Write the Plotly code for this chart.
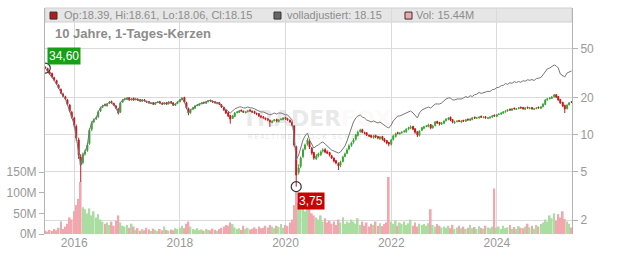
import math
import pandas as pd
import plotly.graph_objects as go

# ---------------- data (half-monthly candles) ----------------
dates = pd.date_range("2015-06-15", periods=240, freq="SMS")

close = [
    34.6, 32.7, 30.9, 29.3, 27.7, 25.7, 23.8, 21.7, 20.5, 19.4,
    17.6, 15.5, 13.8, 11.9, 9.33, 6.79, 5.63, 6.79, 7.18, 8.18,
    10.8, 12.4, 13.1, 13.6, 15.2, 16.4, 17.0, 17.3, 17.6, 18.3,
    18.0, 17.3, 16.4, 14.9, 18.0, 19.0, 19.4, 19.7, 19.0, 19.4,
    19.0, 19.4, 19.0, 18.7, 19.0, 18.7, 18.3, 18.0, 18.0, 17.6,
    18.0, 18.3, 18.0, 17.6, 18.0, 17.6, 18.3, 18.0, 17.3, 17.6,
    18.3, 19.0, 19.7, 18.3, 16.4, 14.9, 15.8, 16.4, 17.0, 17.3,
    17.6, 18.0, 18.0, 18.3, 18.7, 18.7, 18.3, 18.0, 18.0, 17.6,
    16.7, 15.8, 14.9, 14.1, 13.3, 14.1, 14.9, 15.2, 15.5, 15.5,
    15.2, 15.2, 15.5, 15.5, 15.2, 14.9, 14.6, 14.1, 13.8, 13.6,
    13.3, 13.1, 12.6, 12.8, 13.1, 12.8, 13.1, 13.3, 13.6, 13.3,
    13.1, 12.6, 11.9, 8.18, 4.66, 5.32, 6.41, 7.45, 8.18, 8.99,
    7.88, 7.04, 6.41, 6.66, 6.91, 7.18, 7.45, 7.18, 7.04, 6.79,
    6.41, 6.06, 5.84, 5.52, 5.95, 6.53, 6.91, 7.45, 8.03, 8.50,
    8.99, 9.87, 10.4, 10.8, 10.4, 10.2, 9.87, 9.69, 9.51, 9.69,
    9.51, 9.33, 9.51, 9.16, 8.82, 8.50, 8.34, 8.99, 9.69, 10.1,
    10.2, 10.2, 10.4, 10.6, 11.0, 11.3, 11.5, 11.0, 10.4, 9.87,
    10.6, 11.3, 11.5, 11.7, 11.9, 11.3, 11.7, 12.6, 12.4, 12.1,
    12.4, 12.8, 13.3, 13.6, 13.1, 12.6, 12.6, 12.8, 12.8, 12.8,
    12.8, 13.1, 13.1, 13.3, 13.6, 13.6, 13.6, 13.8, 13.8, 13.8,
    13.6, 13.6, 13.8, 14.1, 14.1, 14.4, 14.6, 14.9, 15.2, 15.5,
    15.8, 15.8, 16.1, 16.1, 16.1, 16.4, 16.4, 16.1, 16.4, 16.4,
    16.4, 16.1, 16.1, 16.4, 16.4, 16.7, 17.6, 19.0, 19.4, 19.7,
    20.1, 20.9, 20.1, 19.0, 18.0, 17.0, 16.1, 17.3, 18.0, 18.15,
]

open_ = [
    35.2, 34.3, 32.2, 31.3, 28.9, 27.4, 25.1, 23.2, 21.3, 20.2,
    19.0, 17.3, 15.1, 13.5, 11.6, 9.0, 6.5, 5.9, 6.9, 7.4,
    8.4, 11.0, 12.6, 13.3, 13.9, 15.5, 16.6, 17.4, 17.1, 17.9,
    18.5, 17.8, 17.0, 16.1, 15.2, 18.3, 19.1, 19.2, 19.8, 19.0,
    19.6, 19.1, 19.3, 19.1, 18.6, 19.1, 18.5, 18.4, 17.8, 18.1,
    17.5, 18.2, 18.4, 17.9, 17.7, 18.1, 17.7, 18.4, 18.0, 17.2,
    17.8, 18.4, 19.1, 19.9, 18.1, 16.2, 15.0, 16.0, 16.3, 17.2,
    17.2, 17.7, 18.2, 17.9, 18.4, 18.9, 18.6, 18.4, 17.8, 18.1,
    17.4, 16.6, 15.7, 15.0, 14.2, 13.5, 14.0, 15.0, 15.1, 15.7,
    15.4, 15.0, 15.3, 15.8, 15.4, 15.3, 14.8, 14.7, 14.1, 13.9,
    13.5, 13.4, 13.0, 12.5, 12.9, 13.2, 12.7, 13.2, 13.2, 13.7,
    13.4, 13.0, 12.5, 11.7, 7.9, 4.9, 5.5, 6.6, 7.6, 8.3,
    8.8, 7.7, 7.1, 6.3, 6.7, 6.8, 7.3, 7.5, 7.2, 7.1,
    6.7, 6.4, 6.1, 5.8, 5.6, 6.0, 6.6, 7.0, 7.6, 8.1,
    8.6, 9.1, 9.8, 10.5, 10.9, 10.3, 10.3, 9.8, 9.8, 9.4,
    9.8, 9.6, 9.2, 9.6, 9.2, 8.9, 8.6, 8.3, 9.1, 9.6,
    10.3, 10.1, 10.3, 10.5, 10.5, 11.1, 11.2, 11.6, 11.1, 10.5,
    9.8, 10.8, 11.2, 11.6, 11.6, 12.0, 11.3, 11.8, 12.7, 12.5,
    12.1, 12.3, 12.9, 13.2, 13.8, 13.2, 12.4, 12.7, 12.9, 12.6,
    13.0, 12.8, 13.3, 13.0, 13.2, 13.8, 13.5, 13.6, 14.0, 13.7,
    13.9, 13.5, 13.6, 13.8, 14.3, 14.0, 14.5, 14.6, 14.9, 15.3,
    15.5, 16.0, 15.7, 16.3, 16.0, 16.2, 16.6, 16.5, 16.0, 16.6,
    16.2, 16.5, 16.0, 16.2, 16.6, 16.3, 16.8, 17.5, 19.1, 19.5,
    19.6, 20.2, 21.0, 20.3, 19.2, 18.2, 17.2, 16.2, 17.4, 18.39,
]

high = [
    35.6, 34.8, 32.6, 31.7, 29.4, 27.8, 25.5, 23.6, 21.8, 20.6,
    19.4, 17.6, 15.5, 13.9, 12.0, 9.4, 6.9, 7.1, 7.5, 8.5,
    11.2, 12.8, 13.5, 14.0, 15.6, 16.8, 17.4, 17.8, 18.0, 18.7,
    18.8, 18.1, 17.3, 16.4, 18.4, 19.4, 19.8, 20.1, 20.1, 19.8,
    19.9, 19.8, 19.6, 19.4, 19.3, 19.4, 18.8, 18.7, 18.3, 18.3,
    18.3, 18.6, 18.7, 18.2, 18.3, 18.3, 18.6, 18.6, 18.2, 17.9,
    18.6, 19.3, 20.1, 20.2, 18.4, 16.5, 16.1, 16.7, 17.3, 17.6,
    17.9, 18.3, 18.4, 18.6, 19.0, 19.1, 18.8, 18.6, 18.3, 18.3,
    17.6, 16.8, 15.9, 15.3, 14.4, 14.4, 15.2, 15.5, 15.8, 15.9,
    15.6, 15.4, 15.8, 16.0, 15.6, 15.5, 15.0, 14.9, 14.3, 14.1,
    13.7, 13.5, 13.2, 13.0, 13.3, 13.4, 13.3, 13.5, 13.8, 13.9,
    13.6, 13.2, 12.7, 11.9, 8.1, 5.7, 6.6, 7.7, 8.4, 9.3,
    9.1, 7.9, 7.2, 6.9, 7.1, 7.4, 7.7, 7.7, 7.4, 7.2,
    6.8, 6.5, 6.2, 5.9, 6.1, 6.7, 7.1, 7.7, 8.3, 8.7,
    9.3, 10.1, 10.7, 11.1, 11.1, 10.5, 10.4, 10.0, 9.9, 9.9,
    9.9, 9.7, 9.7, 9.7, 9.3, 9.0, 8.7, 9.2, 9.9, 10.3,
    10.5, 10.4, 10.6, 10.8, 11.2, 11.5, 11.8, 11.7, 11.2, 10.6,
    10.8, 11.5, 11.7, 11.9, 12.2, 12.1, 11.9, 12.8, 12.9, 12.6,
    12.6, 13.0, 13.5, 13.8, 13.9, 13.3, 12.9, 13.0, 13.1, 13.0,
    13.1, 13.3, 13.4, 13.5, 13.8, 13.9, 13.8, 14.0, 14.2, 14.0,
    14.1, 13.8, 14.0, 14.3, 14.5, 14.6, 14.8, 15.1, 15.4, 15.7,
    16.0, 16.2, 16.3, 16.5, 16.3, 16.6, 16.8, 16.7, 16.6, 16.8,
    16.6, 16.7, 16.3, 16.6, 16.8, 16.9, 17.9, 19.3, 19.7, 20.0,
    20.4, 21.3, 21.3, 20.5, 19.4, 18.4, 17.4, 17.5, 18.3, 18.61,
]

low = [
    34.2, 32.3, 30.5, 28.9, 27.3, 25.3, 23.4, 21.3, 20.1, 19.0,
    17.2, 15.1, 13.4, 11.4, 8.9, 6.3, 4.09, 5.7, 6.7, 7.2,
    8.2, 10.6, 12.3, 13.1, 13.6, 15.2, 16.3, 16.9, 16.8, 17.6,
    17.8, 17.0, 16.1, 14.5, 14.9, 18.0, 18.9, 19.0, 18.8, 18.8,
    18.8, 18.9, 18.7, 18.4, 18.4, 18.5, 18.1, 17.8, 17.6, 17.3,
    17.3, 17.9, 17.8, 17.3, 17.4, 17.3, 17.5, 17.8, 17.0, 17.0,
    17.6, 18.2, 18.9, 18.0, 16.0, 14.3, 14.7, 15.7, 16.1, 16.9,
    17.0, 17.5, 17.7, 17.7, 18.2, 18.4, 18.0, 17.8, 17.5, 17.3,
    16.4, 15.5, 14.6, 13.8, 12.2, 13.3, 13.8, 14.8, 14.9, 15.3,
    14.9, 14.8, 15.1, 15.2, 14.9, 14.6, 14.3, 13.8, 13.5, 13.4,
    13.0, 12.8, 11.5, 12.3, 12.7, 12.5, 12.5, 13.0, 13.0, 13.1,
    12.9, 12.4, 11.6, 7.9, 3.75, 4.7, 5.3, 6.4, 7.4, 8.1,
    7.6, 6.8, 6.2, 6.2, 6.5, 6.7, 7.1, 7.0, 6.9, 6.6,
    6.3, 5.9, 5.7, 5.12, 5.4, 5.9, 6.5, 6.9, 7.4, 7.9,
    8.4, 8.9, 9.6, 10.3, 10.2, 10.0, 9.7, 9.5, 9.3, 9.2,
    9.3, 9.1, 9.0, 8.9, 8.6, 8.3, 8.0, 8.1, 8.9, 9.4,
    10.0, 9.9, 10.1, 10.3, 10.3, 10.8, 11.0, 10.8, 10.1, 9.5,
    9.6, 10.6, 11.0, 11.4, 11.4, 11.0, 11.1, 11.6, 12.1, 11.8,
    11.9, 12.1, 12.7, 13.0, 12.8, 12.3, 12.2, 12.5, 12.6, 12.4,
    12.6, 12.6, 12.9, 12.8, 13.0, 13.3, 13.3, 13.4, 13.6, 13.5,
    13.4, 13.3, 13.4, 13.6, 13.9, 13.8, 14.3, 14.4, 14.7, 15.0,
    15.3, 15.5, 15.5, 15.9, 15.8, 16.0, 16.2, 15.9, 15.8, 16.2,
    16.0, 15.9, 15.8, 16.0, 16.2, 16.0, 16.5, 17.3, 18.8, 19.2,
    19.4, 19.9, 19.8, 18.8, 17.7, 16.7, 14.9, 15.9, 17.2, 18.06,
]

adjusted = [
    34.6, 32.7, 30.9, 29.3, 27.7, 25.7, 23.8, 21.7, 20.5, 19.4,
    17.6, 15.5, 13.8, 11.9, 9.33, 6.79, 5.63, 6.79, 7.18, 8.18,
    10.8, 12.4, 13.1, 13.6, 15.2, 16.4, 17.0, 17.3, 17.6, 18.3,
    18.0, 17.3, 16.4, 14.9, 18.0, 19.0, 19.4, 19.7, 19.0, 19.4,
    19.0, 19.4, 19.0, 18.7, 19.0, 18.7, 18.3, 18.0, 18.0, 17.6,
    18.0, 18.3, 18.0, 17.6, 18.0, 17.6, 18.3, 18.0, 17.3, 17.6,
    18.3, 19.0, 19.7, 18.3, 16.4, 14.9, 15.8, 16.4, 17.0, 17.3,
    17.6, 18.0, 18.1, 18.4, 18.8, 18.9, 18.5, 18.2, 18.2, 17.9,
    17.1, 16.4, 15.8, 15.2, 14.9, 15.5, 16.1, 16.4, 16.7, 16.7,
    16.4, 16.4, 16.7, 16.4, 16.4, 16.1, 15.8, 15.5, 15.2, 15.2,
    14.9, 14.6, 14.4, 14.6, 14.9, 14.6, 14.9, 14.9, 14.6, 14.4,
    14.4, 13.8, 13.1, 9.33, 6.18, 6.79, 7.88, 8.99, 9.69, 10.25,
    8.99, 8.18, 7.74, 8.03, 8.18, 8.50, 8.66, 8.34, 8.03, 7.74,
    7.45, 7.31, 7.18, 7.04, 7.18, 7.59, 8.03, 8.82, 9.87, 11.26,
    12.6, 13.58, 14.09, 14.36, 13.83, 13.58, 13.08, 12.84, 12.6, 12.84,
    12.6, 12.36, 12.6, 12.13, 11.69, 11.47, 11.26, 11.91, 12.84, 13.58,
    14.09, 14.09, 14.36, 14.63, 14.91, 15.19, 15.48, 14.91, 14.36, 13.58,
    14.91, 15.77, 16.07, 16.37, 16.68, 16.37, 17.0, 17.65, 17.65, 17.65,
    17.98, 18.67, 19.38, 19.75, 19.75, 19.02, 19.02, 19.38, 19.38, 19.38,
    19.75, 20.3, 19.9, 20.6, 20.3, 21.0, 21.2, 21.9, 21.5, 21.8,
    22.0, 22.4, 22.3, 23.1, 23.2, 24.0, 24.1, 24.9, 25.0, 25.9,
    25.5, 26.3, 26.0, 26.8, 26.4, 26.9, 26.5, 27.3, 27.0, 27.8,
    27.5, 27.9, 27.4, 28.4, 28.6, 29.0, 30.4, 32.77, 34.02, 34.66,
    35.32, 36.67, 35.99, 34.66, 30.97, 29.83, 29.28, 31.56, 32.16, 32.77,
]

volume_m = [
    8, 6, 10, 7, 12, 9, 15, 30, 12, 18, 25, 40, 35,
    55, 70, 85, 126,
    65, 60, 50, 62,
    45, 55, 40, 48, 35,
    30, 25, 28, 22, 30, 20, 32, 45,
    28, 20, 18, 22, 15, 25, 18,
    10, 14, 8, 12, 9, 15, 11, 8, 13, 10, 7, 12, 9, 18, 10, 8, 11, 9, 14, 12,
    15, 20, 14, 25, 30, 18, 12, 10, 14, 9, 11, 8, 12, 10, 9, 13, 10, 8, 12, 15,
    18, 22, 20, 28, 24, 16, 12, 14, 10, 20, 12, 15, 11, 13, 16, 12, 18, 14, 15, 20,
    16, 22, 18, 14, 20, 17, 24, 15, 22, 19, 28, 35,
    70, 102, 75, 65, 80, 55, 60,
    82, 50, 45, 40, 35, 45, 30, 38, 28, 32, 25, 30, 22, 35, 28, 40, 25, 30, 27, 35, 30,
    25, 38, 22, 30, 20, 28, 18, 25, 22, 30, 20, 26, 19, 24, 28, 138, 30,
    25, 32, 20, 28, 24, 30, 22, 26, 35, 20, 28, 18, 25, 22, 24, 20, 26, 60, 22, 18, 24, 20, 16,
    18, 15, 20, 14, 22, 12, 16, 20, 14, 18, 12, 15, 22, 14, 17, 12, 19, 15, 13, 20, 16, 14, 18,
    110,
    15, 18, 12, 20, 14, 16, 22, 13, 17, 12, 19, 15, 14, 18, 25, 16, 20, 13, 22, 18, 24,
    28, 35, 30, 45, 38, 50, 32, 48, 40, 55, 36, 30, 25, 15.44,
]

year_ticks = ["2016-01-01", "2018-01-01", "2020-01-01", "2022-01-01", "2024-01-01"]
year_labels = ["2016", "2018", "2020", "2022", "2024"]
price_ticks = [2, 5, 10, 20, 50]
vol_ticks = [0, 50, 100, 150]
vol_labels = ["0M", "50M", "100M", "150M"]

# ---------------- styling ----------------
UP = "#3aa534"
DOWN = "#c8161d"
VOL_UP = "#abdca2"
VOL_DOWN = "#f2a6ae"
GRID = "#dadada"
AXIS = "#b3b3b3"
TXT = "#999999"

up = [c >= o for o, c in zip(open_, close)]
vol_colors = [VOL_UP if u else VOL_DOWN for u in up]

fig = go.Figure()
fig.add_trace(go.Bar(x=dates, y=volume_m, marker=dict(color=vol_colors, line=dict(width=0)),
                     yaxis="y", hoverinfo="skip"))
fig.add_trace(go.Scatter(x=dates, y=adjusted, mode="lines", line=dict(color="#777777", width=1),
                         yaxis="y2", hoverinfo="skip"))
fig.add_trace(go.Candlestick(
    x=dates, open=open_, high=high, low=low, close=close, yaxis="y2",
    increasing=dict(line=dict(color=UP, width=1), fillcolor=UP),
    decreasing=dict(line=dict(color=DOWN, width=1), fillcolor=DOWN),
    whiskerwidth=0, hoverinfo="skip"))

imin = min(range(len(low)), key=lambda i: low[i])
fig.add_trace(go.Scatter(x=[dates[0], dates[imin]], y=[close[0], low[imin]], mode="markers",
                         marker=dict(symbol="circle-open", size=10, color="#333333", line=dict(width=1.2)),
                         yaxis="y2", hoverinfo="skip"))

def fmt(v):
    return f"{v:.2f}".replace(".", ",")

annotations = [
    dict(x=dates[0], y=math.log10(close[0]), xref="x", yref="y2", text=fmt(close[0]),
         showarrow=False, xanchor="left", yanchor="bottom", xshift=2, yshift=3,
         bgcolor="#17a017", font=dict(color="white", size=12), borderpad=1),
    dict(x=dates[imin], y=math.log10(low[imin]), xref="x", yref="y2", text=fmt(low[imin]),
         showarrow=False, xanchor="left", yanchor="top", xshift=1, yshift=-5,
         bgcolor="#cc0000", font=dict(color="white", size=12), borderpad=1),
    # watermark
    dict(x=0.515, y=0.453, xref="paper", yref="paper", showarrow=False, yanchor="bottom", borderpad=0,
         text="<b>TRADER<span style='color:rgba(235,90,90,0.2)'>FOX</span></b>",
         font=dict(size=22, color="rgba(140,140,140,0.2)", family="DejaVu Sans, Verdana, sans-serif")),
    dict(x=0.515, y=0.453, xref="paper", yref="paper", showarrow=False, yanchor="top", borderpad=0,
         text="R E A L T I M E   S T O C K   S C R E E N I N G",
         font=dict(size=6.5, color="rgba(140,140,140,0.25)")),
    # title
    dict(x=0.0152, y=0.885, xref="paper", yref="paper", showarrow=False, xanchor="left", yanchor="middle",
         text="<b>10 Jahre, 1-Tages-Kerzen</b>", font=dict(size=13, color="#8c8c8c")),
    # legend band texts
    dict(x=0.0315, y=0.969, xref="paper", yref="paper", showarrow=False, xanchor="left", yanchor="middle",
         text=f"Op:{open_[-1]:.2f}, Hi:{high[-1]:.2f}, Lo:{low[-1]:.2f}, Cl:{close[-1]:.2f}",
         font=dict(size=11, color="#8c8c8c")),
    dict(x=0.4545, y=0.969, xref="paper", yref="paper", showarrow=False, xanchor="left", yanchor="middle",
         text=f"volladjustiert: {close[-1]:.2f}", font=dict(size=11, color="#8c8c8c")),
    dict(x=0.6995, y=0.969, xref="paper", yref="paper", showarrow=False, xanchor="left", yanchor="middle",
         text=f"Vol: {volume_m[-1]:.2f}M", font=dict(size=11, color="#8c8c8c")),
]

shapes = [
    dict(type="rect", xref="paper", yref="paper", x0=0, x1=1, y0=0.938, y1=1.0,
         fillcolor="#e6e6e6", line=dict(color="#cfcfcf", width=1), layer="below"),
    dict(type="rect", xref="paper", yref="paper", x0=0.0095, x1=0.0228, y0=0.951, y1=0.982,
         fillcolor="#b51a1a", line=dict(color="#333333", width=1)),
    dict(type="rect", xref="paper", yref="paper", x0=0.4345, x1=0.4478, y0=0.951, y1=0.982,
         fillcolor="#666666", line=dict(color="#333333", width=1)),
    dict(type="rect", xref="paper", yref="paper", x0=0.6831, x1=0.6964, y0=0.951, y1=0.982,
         fillcolor="#f2a6ae", line=dict(color="#333333", width=1)),
]

fig.update_layout(
    width=632, height=253,
    margin=dict(l=45, r=60, t=8, b=19, autoexpand=False),
    paper_bgcolor="white", plot_bgcolor="white",
    showlegend=False, bargap=0.15,
    font=dict(family="Liberation Sans, Arial, sans-serif", size=12, color=TXT),
    xaxis=dict(type="date", range=["2015-06-13", "2025-06-04"], rangeslider=dict(visible=False),
               tickvals=year_ticks, ticktext=year_labels, showgrid=True, gridcolor=GRID, gridwidth=1,
               ticks="", showline=False, zeroline=False, automargin=False,
               tickfont=dict(size=12, color=TXT)),
    yaxis=dict(range=[0, 546.8], tickvals=vol_ticks, ticktext=vol_labels, side="left",
               showgrid=False, zeroline=False, showline=True, linecolor=AXIS, linewidth=1,
               automargin=False, ticks="outside", ticklen=5, tickcolor=AXIS,
               tickfont=dict(size=12, color=TXT)),
    yaxis2=dict(type="log", range=[0.1888, 2.0277], overlaying="y", side="right", anchor="x",
                tickvals=price_ticks, ticktext=[str(t) for t in price_ticks],
                showgrid=True, gridcolor=GRID, gridwidth=1, zeroline=False,
                showline=True, linecolor=AXIS, linewidth=1, automargin=False,
                ticks="outside", ticklen=5, tickcolor=AXIS, tickfont=dict(size=12, color=TXT)),
    annotations=annotations,
    shapes=shapes,
)

fig.write_html("out.html", config={"displayModeBar": False})
